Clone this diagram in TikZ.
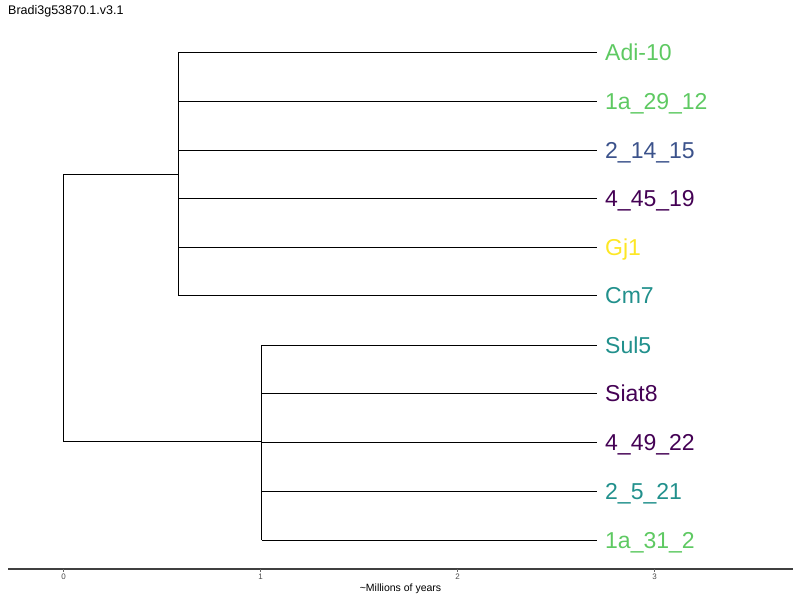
\documentclass[tikz,border=0pt]{standalone}
\usepackage{fontspec}
\setmainfont{Liberation Sans}
\definecolor{vgreen}{RGB}{94,201,98}
\definecolor{vblue}{RGB}{59,82,139}
\definecolor{vpurple}{RGB}{68,1,84}
\definecolor{vyellow}{RGB}{253,231,37}
\definecolor{vteal}{RGB}{33,144,140}
\begin{document}
\begin{tikzpicture}[x=1pt,y=-1pt,
  branch/.style={draw=black,line width=0.9pt},
  leaf/.style={anchor=base west,inner sep=0pt,font=\fontsize{23}{23}\selectfont},
  ticklab/.style={font=\fontsize{8}{8}\selectfont,text=black!70,inner sep=0pt}]
\useasboundingbox (0,0) rectangle (800,600);
% title
\node[anchor=base west,inner sep=0pt,font=\fontsize{12.5}{12.5}\selectfont] (title) at (8,14) {Bradi3g53870.1.v3.1};
% internal nodes
\coordinate (root) at (63.5,307.5);
\coordinate (up) at (178,174);
\coordinate (lo) at (261.5,441);
% leaf tips
\foreach \n/\y in {a/52,b/101,c/150,d/198,e/247,f/295,g/345,h/393,i/442,j/491,k/540}
  \coordinate (t\n) at (597,\y);
% leaf labels
\node[leaf,text=vgreen]  (Ladi)  at (605,60)  {Adi-10};
\node[leaf,text=vgreen]  (L1a29) at (605,109) {1a\_29\_12};
\node[leaf,text=vblue]   (L214)  at (605,158) {2\_14\_15};
\node[leaf,text=vpurple] (L445)  at (605,206) {4\_45\_19};
\node[leaf,text=vyellow] (Lgj)   at (605,255) {Gj1};
\node[leaf,text=vteal]   (Lcm)   at (605,303) {Cm7};
\node[leaf,text=vteal]   (Lsul)  at (605,353) {Sul5};
\node[leaf,text=vpurple] (Lsiat) at (605,401) {Siat8};
\node[leaf,text=vpurple] (L449)  at (605,450) {4\_49\_22};
\node[leaf,text=vteal]   (L25)   at (605,499) {2\_5\_21};
\node[leaf,text=vgreen]  (L1a31) at (605,548) {1a\_31\_2};
% root split
\draw[branch] (up) -| (63.5,307.5) |- (lo);
% upper clade
\draw[branch] (178,52) -- (178,295);
\foreach \n in {a,b,c,d,e,f}
  \draw[branch] (up |- t\n) -- (t\n);
% lower clade
\draw[branch] (261.5,345) -- (261.5,540);
\foreach \n in {g,h,i,j,k}
  \draw[branch] (lo |- t\n) -- (t\n);
% time axis
\draw[draw=black!75,line width=1.2pt] (8,569) coordinate (ax0) -- (793,569) coordinate (ax1);
\foreach \v/\x in {0/63.5,1/260.5,2/457.5,3/654.5}{
  \draw[draw=black!60,line width=0.5pt] (\x,569) -- (\x,572);
  \node[ticklab] (tick\v) at (\x,577) {\v};
}
\node[font=\fontsize{10.5}{10.5}\selectfont,inner sep=0pt] (axlab) at (400.5,589) {\textasciitilde Millions of years};
\end{tikzpicture}
\end{document}
